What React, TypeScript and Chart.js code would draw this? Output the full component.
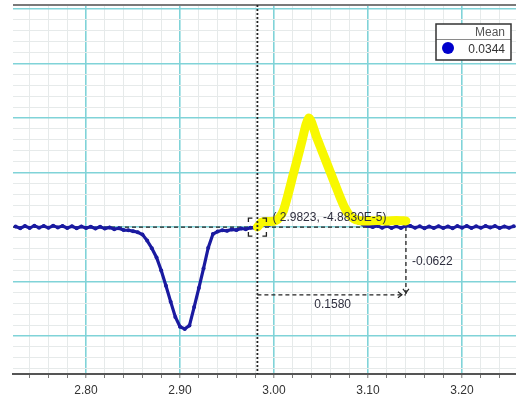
import React, { useEffect, useRef } from 'react';
import { Chart, registerables } from 'chart.js';

Chart.register(...registerables);

// ---- data ----
const signalX = [
  2.725, 2.730, 2.735, 2.740, 2.745, 2.750, 2.755, 2.760, 2.765, 2.770,
  2.775, 2.780, 2.785, 2.790, 2.795, 2.800, 2.805, 2.810, 2.815, 2.820,
  2.825, 2.830, 2.835, 2.840, 2.845, 2.850, 2.855, 2.860, 2.865, 2.870,
  2.875, 2.880, 2.885, 2.890, 2.895, 2.900, 2.905, 2.910, 2.915, 2.920,
  2.925, 2.930, 2.935, 2.940, 2.945, 2.950, 2.955, 2.960, 2.965, 2.970,
  2.975, 2.980, 2.985, 2.990, 2.995, 3.000, 3.005, 3.010, 3.015, 3.020,
  3.025, 3.030, 3.035, 3.040, 3.045, 3.050, 3.055, 3.060, 3.065, 3.070,
  3.075, 3.080, 3.085, 3.090, 3.095, 3.100, 3.105, 3.110, 3.115, 3.120,
  3.125, 3.130, 3.135, 3.140, 3.145, 3.150, 3.155, 3.160, 3.165, 3.170,
  3.175, 3.180, 3.185, 3.190, 3.195, 3.200, 3.205, 3.210, 3.215, 3.220,
  3.225, 3.230, 3.235, 3.240, 3.245, 3.250, 3.255,
];
const signalY = [
  0.0005, -0.0012, 0.0008, -0.0010, 0.0012, -0.0006, 0.0010, -0.0008, 0.0011, -0.0004,
  0.0009, -0.0010, 0.0006, -0.0012, 0.0004, -0.0009, 0.0003, -0.0014, 0.0002, -0.0015,
  -0.0004, -0.0020, -0.0012, -0.0028, -0.0030, -0.0038, -0.0048, -0.0070, -0.0125, -0.0195,
  -0.0280, -0.0400, -0.0540, -0.0685, -0.0825, -0.0915, -0.0935, -0.0905, -0.0735, -0.0560,
  -0.0380, -0.0190, -0.0065, -0.0042, -0.0030, -0.0035, -0.0022, -0.0028, -0.0014, -0.0020,
  -0.0006, -0.0008, 0.0010, 0.0020, 0.0020, 0.0040, 0.0070, 0.0150, 0.0300, 0.0470,
  0.0630, 0.0800, 0.0960, 0.0970, 0.0830, 0.0720, 0.0610, 0.0500, 0.0390, 0.0280,
  0.0180, 0.0110, 0.0070, 0.0040, 0.0020, 0.0010, 0.0000, 0.0012, -0.0008, 0.0010,
  -0.0010, 0.0006, -0.0009, 0.0010, 0.0010, -0.0008, 0.0006, -0.0012, 0.0004, -0.0010,
  0.0007, -0.0009, 0.0005, -0.0011, 0.0008, -0.0006, 0.0009, -0.0010, 0.0006, -0.0008,
  0.0010, -0.0005, 0.0008, -0.0009, 0.0005, -0.0007, 0.0006,
];
const selectionX = [
  2.9823, 2.9870, 2.9920, 2.9970, 3.0020, 3.0060, 3.0100, 3.0150, 3.0200, 3.0250,
  3.0300, 3.0340, 3.0370, 3.0400, 3.0450, 3.0500, 3.0550, 3.0600, 3.0650, 3.0700,
  3.0750, 3.0800, 3.0850, 3.0900, 3.0950, 3.1000, 3.1100, 3.1200, 3.1300, 3.1403,
];
const selectionY = [
  0.0000, 0.0045, 0.0050, 0.0050, 0.0060, 0.0090, 0.0150, 0.0300, 0.0470, 0.0630,
  0.0800, 0.0940, 0.1000, 0.0960, 0.0830, 0.0720, 0.0610, 0.0500, 0.0390, 0.0280,
  0.0180, 0.0110, 0.0075, 0.0060, 0.0055, 0.0055, 0.0060, 0.0055, 0.0060, 0.0055,
];
const xGridValues = [
  2.74, 2.76, 2.78, 2.80, 2.82, 2.84, 2.86, 2.88, 2.90, 2.92, 2.94, 2.96, 2.98,
  3.00, 3.02, 3.04, 3.06, 3.08, 3.10, 3.12, 3.14, 3.16, 3.18, 3.20, 3.22, 3.24,
];
const xMajorValues = [2.8, 2.9, 3.0, 3.1, 3.2];
const xTickLabels = ['2.80', '2.90', '3.00', '3.10', '3.20'];
const yGridValues = [
  -0.13, -0.12, -0.11, -0.10, -0.09, -0.08, -0.07, -0.06, -0.05, -0.04, -0.03, -0.02, -0.01,
  0.0, 0.01, 0.02, 0.03, 0.04, 0.05, 0.06, 0.07, 0.08, 0.09, 0.10, 0.11, 0.12, 0.13, 0.14,
  0.15, 0.16, 0.17, 0.18, 0.19, 0.20,
];
const yMajorValues = [-0.1, -0.05, 0, 0.05, 0.1, 0.15, 0.2];
const cursorX = 2.9823;
const cursorY = -4.883e-5;
const deltaX = 0.158;
const deltaY = -0.0622;
const cursorLabel = '( 2.9823, -4.8830E-5)';
const deltaXLabel = '0.1580';
const deltaYLabel = '-0.0622';
const legendTitle = 'Mean';
const legendValue = '0.0344';

const FONT = '"Liberation Sans", Arial, sans-serif';
const MAJOR = '#80d3d8';
const MINOR = '#e6eaea';
const isIn = (v: number, list: number[]) => list.some((m) => Math.abs(m - v) < 1e-6);

const overlay = {
  id: 'overlay',
  beforeDatasetsDraw(chart: any) {
    const { ctx, chartArea: a, scales } = chart;
    const x = scales.x, y = scales.y;
    const cy = y.getPixelForValue(cursorY);
    const cx = x.getPixelForValue(cursorX);
    const ex = x.getPixelForValue(cursorX + deltaX);
    const ey = y.getPixelForValue(cursorY + deltaY);
    ctx.save();
    ctx.strokeStyle = '#222';
    ctx.lineWidth = 1.3;
    ctx.setLineDash([4, 3]);
    const seg = (x1: number, y1: number, x2: number, y2: number) => {
      ctx.beginPath(); ctx.moveTo(x1, y1); ctx.lineTo(x2, y2); ctx.stroke();
    };
    seg(a.left, cy, ex, cy);
    seg(ex, cy, ex, ey);
    seg(cx, ey, ex, ey);
    ctx.restore();
  },
  afterDatasetsDraw(chart: any) {
    const { ctx, chartArea: a, scales } = chart;
    const x = scales.x, y = scales.y;
    const cx = x.getPixelForValue(cursorX);
    const cy = y.getPixelForValue(cursorY);
    const ex = x.getPixelForValue(cursorX + deltaX);
    const ey = y.getPixelForValue(cursorY + deltaY);
    ctx.save();
    const seg = (x1: number, y1: number, x2: number, y2: number) => {
      ctx.beginPath(); ctx.moveTo(x1, y1); ctx.lineTo(x2, y2); ctx.stroke();
    };
    // top frame
    ctx.strokeStyle = '#7a7a7a';
    ctx.lineWidth = 2;
    seg(a.left, a.top, a.right, a.top);
    // cursor vertical dotted line
    ctx.strokeStyle = '#222';
    ctx.lineWidth = 1.8;
    ctx.setLineDash([2, 2]);
    seg(cx, a.top, cx, a.bottom);
    ctx.setLineDash([]);
    // bracket corners around the cursor point
    ctx.lineWidth = 1.3;
    const h = 9, arm = 4;
    const corner = (px: number, py: number, dx: number, dy: number) => {
      ctx.beginPath();
      ctx.moveTo(px + dx * arm, py);
      ctx.lineTo(px, py);
      ctx.lineTo(px, py + dy * arm);
      ctx.stroke();
    };
    corner(cx - h, cy - h, 1, 1);
    corner(cx + h, cy - h, -1, 1);
    corner(cx - h, cy + h, 1, -1);
    corner(cx + h, cy + h, -1, -1);
    // arrow heads
    ctx.lineWidth = 1.2;
    ctx.beginPath();
    ctx.moveTo(ex - 3, ey - 6); ctx.lineTo(ex, ey - 2); ctx.lineTo(ex + 3, ey - 6);
    ctx.stroke();
    ctx.beginPath();
    ctx.moveTo(ex - 8, ey - 3); ctx.lineTo(ex - 4, ey); ctx.lineTo(ex - 8, ey + 3);
    ctx.stroke();
    // labels
    ctx.font = `12px ${FONT}`;
    ctx.fillStyle = '#2e2e3e';
    ctx.textBaseline = 'middle';
    ctx.textAlign = 'left';
    ctx.fillText(cursorLabel, cx + 15, cy - 9);
    ctx.fillText(deltaYLabel, ex + 6, (cy + ey) / 2 + 1);
    ctx.textAlign = 'center';
    ctx.fillText(deltaXLabel, (cx + ex) / 2 + 1, ey + 10);
    // legend box
    const bx = a.right - 80, by = a.top + 19, bw = 75, bh = 36;
    ctx.fillStyle = '#ffffff';
    ctx.fillRect(bx, by, bw, bh);
    ctx.strokeStyle = '#8a8a8a';
    ctx.lineWidth = 1;
    seg(bx, by + 15.5, bx + bw, by + 15.5);
    ctx.strokeStyle = '#333';
    ctx.lineWidth = 1.5;
    ctx.strokeRect(bx, by, bw, bh);
    ctx.fillStyle = '#555';
    ctx.textAlign = 'right';
    ctx.fillText(legendTitle, bx + bw - 6, by + 9);
    ctx.fillStyle = '#333';
    ctx.fillText(legendValue, bx + bw - 6, by + 26);
    ctx.fillStyle = '#0000cc';
    ctx.beginPath();
    ctx.arc(bx + 12, by + 24, 6, 0, Math.PI * 2);
    ctx.fill();
    ctx.restore();
  },
};

export default function App() {
  const ref = useRef<HTMLCanvasElement | null>(null);
  useEffect(() => {
    if (!ref.current) return;
    const chart = new Chart(ref.current, {
      type: 'line',
      data: {
        datasets: [
          {
            label: 'selection',
            data: selectionX.map((v, i) => ({ x: v, y: selectionY[i] })),
            borderColor: '#f8f800',
            borderWidth: 9,
            pointRadius: 0,
            borderJoinStyle: 'round',
            borderCapStyle: 'round',
            tension: 0.2,
            order: 0,
          },
          {
            label: 'signal',
            data: signalX.map((v, i) => ({ x: v, y: signalY[i] })),
            borderColor: '#1a1aa0',
            backgroundColor: '#1a1aa0',
            borderWidth: 3.2,
            pointRadius: 2,
            pointBorderWidth: 0,
            order: 1,
          },
        ],
      },
      options: {
        responsive: false,
        animation: false,
        devicePixelRatio: 1,
        layout: { autoPadding: false, padding: { left: 13, top: 5, right: 0, bottom: 0 } },
        plugins: { legend: { display: false }, tooltip: { enabled: false } },
        scales: {
          x: {
            type: 'linear',
            min: 2.7223,
            max: 3.2574,
            afterBuildTicks: (s: any) => { s.ticks = xGridValues.map((v) => ({ value: v })); },
            afterFit: (s: any) => { s.height = 22; s.paddingLeft = 0; s.paddingRight = 0; },
            ticks: {
              autoSkip: false,
              maxRotation: 0,
              padding: 5,
              color: '#333',
              font: { family: FONT, size: 12 },
              callback: (v: any) => {
                const i = xMajorValues.findIndex((m) => Math.abs(m - v) < 1e-6);
                return i >= 0 ? xTickLabels[i] : '';
              },
            },
            grid: {
              color: (c: any) => (isIn(c.tick?.value ?? 0, xMajorValues) ? MAJOR : MINOR),
              lineWidth: (c: any) => (isIn(c.tick?.value ?? 0, xMajorValues) ? 1.6 : 1),
              tickColor: '#777',
              tickLength: 4,
              tickWidth: 1,
            },
            border: { color: '#555', width: 2 },
          },
          y: {
            type: 'linear',
            min: -0.1349,
            max: 0.2037,
            afterBuildTicks: (s: any) => { s.ticks = yGridValues.map((v) => ({ value: v })); },
            afterFit: (s: any) => { s.width = 0; s.paddingTop = 0; s.paddingBottom = 0; },
            ticks: { display: false },
            grid: {
              drawTicks: false,
              color: (c: any) => (isIn(c.tick?.value ?? 1, yMajorValues) ? MAJOR : MINOR),
              lineWidth: (c: any) => (isIn(c.tick?.value ?? 1, yMajorValues) ? 1.6 : 1),
            },
            border: { display: false },
          },
        },
      },
      plugins: [overlay],
    } as any);
    return () => chart.destroy();
  }, []);
  return (
    <div style={{ position: 'absolute', left: 0, top: 0, width: 516, height: 396, background: '#fff' }}>
      <canvas ref={ref} width={516} height={396} style={{ display: 'block' }} />
    </div>
  );
}
